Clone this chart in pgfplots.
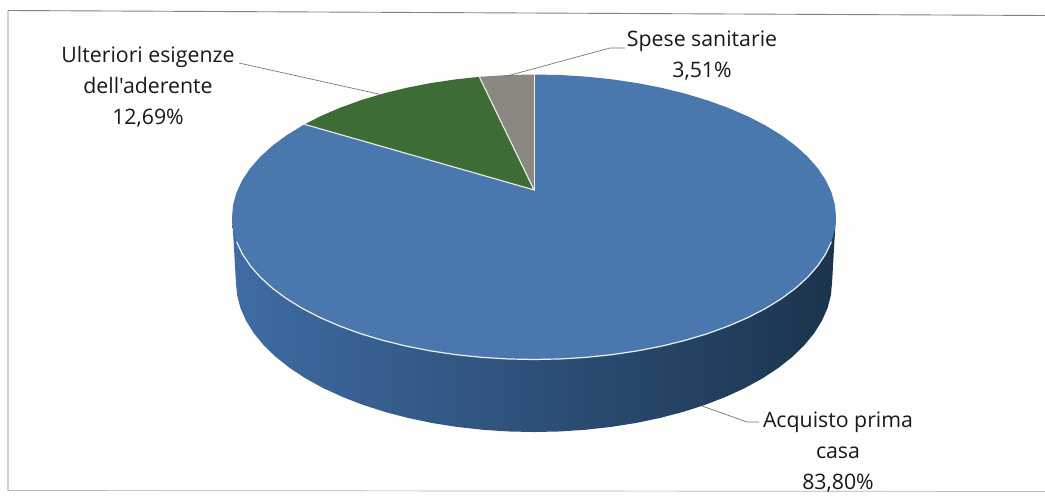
\documentclass[border=0pt]{standalone}
\usepackage{pgfplots}
\pgfplotsset{compat=1.18}
\usepackage{fontspec}
\newfontfamily\labelfont{Open Sans}
\definecolor{paper}{HTML}{FEFEFC}
\definecolor{topblue}{HTML}{4A78AE}
\definecolor{topgreen}{HTML}{3E6C36}
\definecolor{topgrey}{HTML}{8B8781}
\definecolor{rimline}{HTML}{EEF0EA}
\definecolor{sideleft}{HTML}{3F6CA3}
\definecolor{sidemid}{HTML}{244876}
\definecolor{sideright}{HTML}{1B344E}
\definecolor{frameline}{HTML}{7F8288}
\definecolor{leader}{HTML}{77777A}
\pgfplotsset{canvas/.style={width=1045pt,height=492pt,scale only axis,hide axis}}
\tikzset{datalabel/.style={align=center,font=\labelfont\fontsize{21.3}{31}\selectfont,text=black!90}}
\begin{document}
\begin{tikzpicture}
% Page layer: paper, frame, in page coordinates with y growing downward
\begin{axis}[canvas,xmin=0,xmax=1045,ymin=0,ymax=492,y dir=reverse]
\addplot[draw=none,fill=paper] coordinates {(0,0) (1045,0) (1045,492) (0,492)} \closedcycle;
\addplot[frameline,line width=0.9pt] coordinates {(1045,15.5) (8,10.5) (8,490.5)};
\addplot[frameline!60,line width=0.7pt] coordinates {(8,490.5) (1045,491.5)};
\end{axis}
% Pie layer: the top face is the unit circle of this axis, the apex sits off-centre
% because the pie is seen in perspective. Shares 83,80 / 12,69 / 3,51 set the corners.
\begin{axis}[canvas,xmin=-1.7682,xmax=1.6921,ymin=-1.9298,ymax=1.5228]
% side wall, front half
\addplot[draw=none,shade,left color=sideleft,middle color=sidemid,right color=sideright] coordinates {
(-1,0) (-.995,-.16) (-.987,-.456) (-.9832,-.5478) (-.9720,-.6388) (-.9533,-.7285) (-.9275,-.8161)
(-.8945,-.9010) (-.8548,-.9825) (-.8085,-1.0600) (-.7560,-1.1329) (-.6979,-1.2006) (-.6344,-1.2626)
(-.5661,-1.3186) (-.4935,-1.3679) (-.4171,-1.4103) (-.3376,-1.4455) (-.2554,-1.4731) (-.1713,-1.4930)
(-.0861,-1.5050) (0,-1.509) (.0861,-1.5050) (.1713,-1.4930) (.2554,-1.4731) (.3376,-1.4455)
(.4171,-1.4103) (.4935,-1.3679) (.5661,-1.3186) (.6344,-1.2626) (.6979,-1.2006) (.7560,-1.1329)
(.8085,-1.0600) (.8548,-.9825) (.8945,-.9010) (.9275,-.8161) (.9533,-.7285) (.9720,-.6388)
(.9832,-.5478) (.987,-.456) (.995,-.16) (1,0)} -- cycle;
% Acquisto prima casa
\addplot[draw=none,fill=topblue] coordinates {
(0,.19) (0,1) (.0872,.9962) (.1736,.9848) (.2588,.9659) (.3420,.9397) (.4226,.9063) (.5,.8660)
(.5736,.8192) (.6428,.7660) (.7071,.7071) (.7660,.6428) (.8192,.5736) (.8660,.5) (.9063,.4226)
(.9397,.3420) (.9659,.2588) (.9848,.1736) (.9962,.0872) (1,0)
(.9962,-.0872) (.9848,-.1736) (.9659,-.2588) (.9397,-.3420) (.9063,-.4226) (.8660,-.5)
(.8192,-.5736) (.7660,-.6428) (.7071,-.7071) (.6428,-.7660) (.5736,-.8192) (.5,-.8660)
(.4226,-.9063) (.3420,-.9397) (.2588,-.9659) (.1736,-.9848) (.0872,-.9962) (0,-1)
(-.0872,-.9962) (-.1736,-.9848) (-.2588,-.9659) (-.3420,-.9397) (-.4226,-.9063) (-.5,-.8660)
(-.5736,-.8192) (-.6428,-.7660) (-.7071,-.7071) (-.7660,-.6428) (-.8192,-.5736) (-.8660,-.5)
(-.9063,-.4226) (-.9397,-.3420) (-.9659,-.2588) (-.9848,-.1736) (-.9962,-.0872) (-1,0)
(-.9962,.0872) (-.9848,.1736) (-.9659,.2588) (-.9397,.3420) (-.9063,.4226) (-.8660,.5)
(-.8192,.5736) (-.7660,.6428) (-.7597,.6503)} -- cycle;
% Ulteriori esigenze dell'aderente
\addplot[draw=none,fill=topgreen] coordinates {
(0,.19) (-.7597,.6503) (-.7071,.7071) (-.6428,.7660) (-.5736,.8192) (-.5,.8660) (-.4226,.9063)
(-.3420,.9397) (-.2588,.9659) (-.1811,.9835)} -- cycle;
% Spese sanitarie
\addplot[draw=none,fill=topgrey] coordinates {
(0,.19) (-.1811,.9835) (-.1736,.9848) (-.0872,.9962) (0,1)} -- cycle;
% light edges between the slices and along the front rim
\addplot[rimline,line width=1.1pt] coordinates {(-.7597,.6503) (0,.19) (-.1811,.9835)};
\addplot[rimline,line width=0.8pt] coordinates {(0,.19) (0,1)};
\addplot[rimline,line width=1.2pt] coordinates {
(.9848,-.1736) (.9659,-.2588) (.9397,-.3420) (.9063,-.4226) (.8660,-.5)
(.8192,-.5736) (.7660,-.6428) (.7071,-.7071) (.6428,-.7660) (.5736,-.8192) (.5,-.8660)
(.4226,-.9063) (.3420,-.9397) (.2588,-.9659) (.1736,-.9848) (.0872,-.9962) (0,-1)
(-.0872,-.9962) (-.1736,-.9848) (-.2588,-.9659) (-.3420,-.9397) (-.4226,-.9063) (-.5,-.8660)
(-.5736,-.8192) (-.6428,-.7660) (-.7071,-.7071) (-.7660,-.6428) (-.8192,-.5736) (-.8660,-.5)
(-.9063,-.4226) (-.9397,-.3420) (-.9659,-.2588) (-.9848,-.1736)};
\end{axis}
% Label layer: leader lines and data labels in page coordinates
\begin{axis}[canvas,xmin=0,xmax=1045,ymin=0,ymax=492,y dir=reverse,clip=false]
\addplot[leader,line width=0.7pt] coordinates {(239,63) (383,95)};
\addplot[leader,line width=0.7pt] coordinates {(625,48) (610,48) (507,76)};
\addplot[leader,line width=0.7pt] coordinates {(702,406) (747,422) (759,422)};
\node[datalabel] at (axis cs:148,87) {Ulteriori esigenze\\dell'aderente\\12,69\%};
\node[datalabel] at (axis cs:702,56) {Spese sanitarie\\3,51\%};
\node[datalabel] at (axis cs:838,452) {Acquisto prima\\casa\\83,80\%};
\end{axis}
\end{tikzpicture}
\end{document}
